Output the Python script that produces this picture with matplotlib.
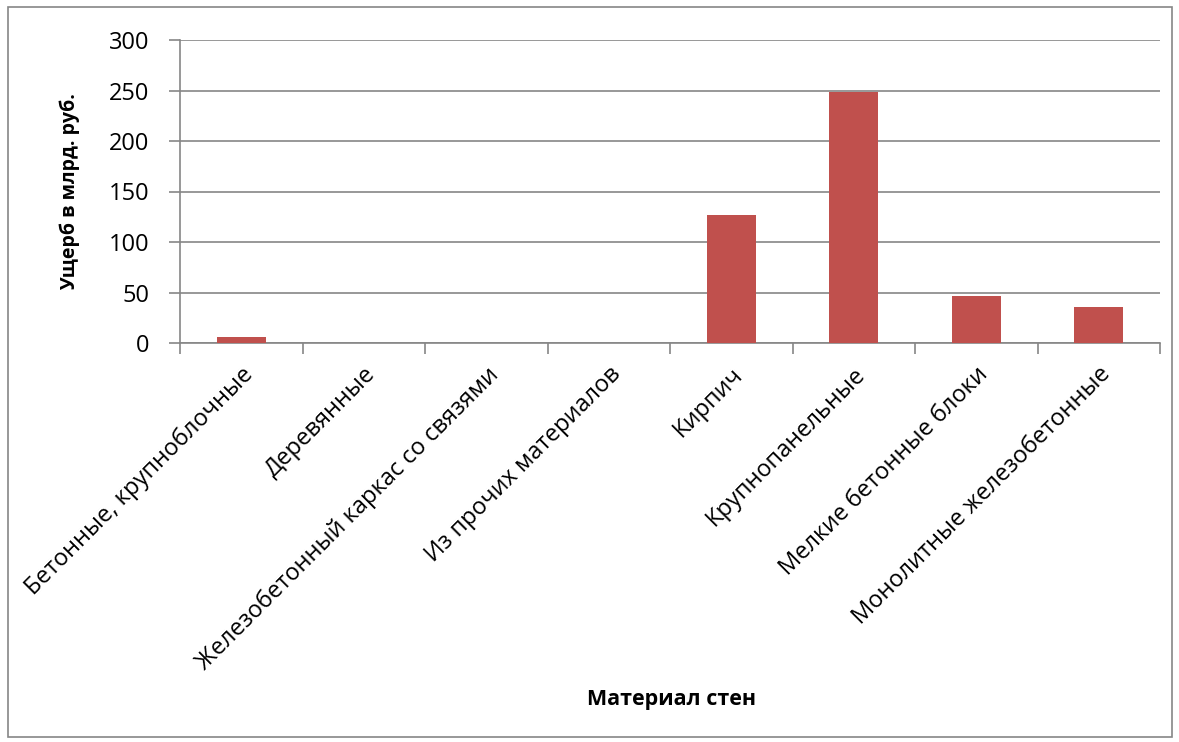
import matplotlib
matplotlib.use("Agg")
from matplotlib import pyplot as plt
from matplotlib.patches import Rectangle

# data
categories = [
    "Бетонные, крупноблочные",
    "Деревянные",
    "Железобетонный каркас со связями",
    "Из прочих материалов",
    "Кирпич",
    "Крупнопанельные",
    "Мелкие бетонные блоки",
    "Монолитные железобетонные",
]
damage = [6, 0, 0, 0, 127, 249, 47, 36]
y_ticks = [0, 50, 100, 150, 200, 250, 300]

plt.rcParams['font.family'] = ['Open Sans', 'DejaVu Sans']

fig = plt.figure(figsize=(11.79, 7.42), dpi=100)
ax = fig.add_axes([180 / 1179, 1 - 343 / 742, 980 / 1179, 303 / 742])

x = list(range(len(categories)))
ax.bar(x, damage, width=0.4, color='#C0504D', zorder=3)

ax.set_xlim(-0.5, len(categories) - 0.5)
ax.set_ylim(0, 300)
ax.set_yticks(y_ticks)
ax.tick_params(axis='y', labelsize=17, length=8, color='#868686', width=1.2, pad=14)
ax.grid(axis='y', color='#868686', linewidth=1.2, zorder=0)

# category labels, tick marks between categories
ax.set_xticks(x)
ax.set_xticklabels(categories, rotation=45, ha='right', rotation_mode='anchor', fontsize=17)
ax.tick_params(axis='x', length=0, pad=14)
ax.set_xticks([i + 0.5 for i in range(-1, len(categories))], minor=True)
ax.tick_params(axis='x', which='minor', length=8, color='#868686', width=1.2)

for side in ['top', 'right']:
    ax.spines[side].set_visible(False)
for side in ['left', 'bottom']:
    ax.spines[side].set_color('#868686')
    ax.spines[side].set_linewidth(1.2)

fig.text(70 / 1179, 1 - 192 / 742, "Ущерб в млрд. руб.", rotation=90,
         fontsize=14, fontweight='bold', ha='center', va='center')
fig.text(672 / 1179, 1 - 700 / 742, "Материал стен",
         fontsize=15.5, fontweight='bold', ha='center', va='center')

# chart area border
fig.patches.append(Rectangle((8 / 1179, 5 / 742), 1164 / 1179, 730 / 742,
                             transform=fig.transFigure, fill=False,
                             edgecolor='#868686', linewidth=1.2))

plt.savefig("out.png")
plt.close()
